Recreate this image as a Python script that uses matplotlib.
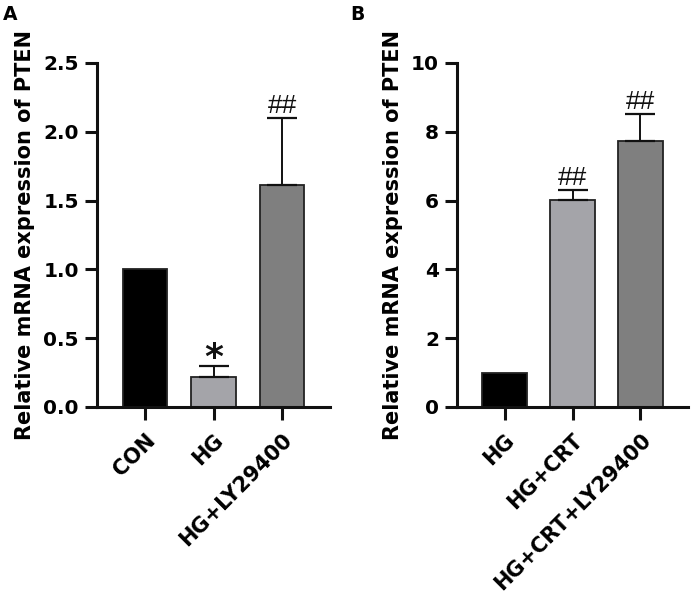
import matplotlib
matplotlib.use("Agg")
import matplotlib.pyplot as plt

plt.rcParams['font.family'] = ['DejaVu Sans']
plt.rcParams['font.weight'] = 'bold'

# Panel A data
cats_a = ["CON", "HG", "HG+LY29400"]
vals_a = [1.0, 0.22, 1.61]
err_a = [0.0, 0.08, 0.49]
marks_a = ["", "*", "##"]

# Panel B data
cats_b = ["HG", "HG+CRT", "HG+CRT+LY29400"]
vals_b = [1.0, 6.03, 7.72]
err_b = [0.0, 0.29, 0.81]
marks_b = ["", "##", "##"]

colors = ["#000000", "#a4a4a9", "#7f7f7f"]

fig = plt.figure(figsize=(6.92, 6.07), dpi=100)
W, H = 692, 607

def make_ax(left, right, top, bottom):
    return fig.add_axes([left / W, 1 - bottom / H, (right - left) / W, (bottom - top) / H])

ax_a = make_ax(97, 330, 63, 407)
ax_b = make_ax(457, 688, 63, 407)

def draw(ax, cats, vals, errs, marks, ylim, yticks, yticklabels):
    x = list(range(len(cats)))
    ax.bar(x, vals, width=0.65, color=colors, edgecolor="#222222", linewidth=1.3, zorder=2)
    for xi, v, e, m in zip(x, vals, errs, marks):
        if e > 0:
            ax.errorbar(xi, v, yerr=[[0], [e]], fmt="none", ecolor="#111111",
                        elinewidth=1.4, capsize=11, capthick=1.6, zorder=3)
        if m == "*":
            ax.annotate(m, xy=(xi, v + e), xytext=(0, -2), textcoords="offset points",
                        ha="center", va="baseline", fontsize=26, fontweight="bold",
                        color="#111111")
        elif m:
            ax.annotate(m, xy=(xi, v + e), xytext=(0, 3.6), textcoords="offset points",
                        ha="center", va="baseline", fontsize=19, fontweight="normal",
                        family=["Liberation Sans"], color="#111111")
    ax.set_xlim(-0.7, 2.7)
    ax.set_ylim(*ylim)
    ax.set_yticks(yticks)
    ax.set_yticklabels(yticklabels, fontsize=14.5, fontweight="bold")
    ax.set_xticks(x)
    ax.set_xticklabels(cats, fontsize=15, fontweight="bold", rotation=45,
                       ha="right", va="top", rotation_mode="anchor")
    for s in ["top", "right"]:
        ax.spines[s].set_visible(False)
    for s in ["left", "bottom"]:
        ax.spines[s].set_linewidth(2.2)
        ax.spines[s].set_color("#111111")
    ax.tick_params(axis="y", width=2.2, length=9, color="#111111", pad=4)
    ax.tick_params(axis="x", width=2.2, length=9, color="#111111", pad=7.5)
    ax.set_ylabel("Relative mRNA expression of PTEN", fontsize=15, fontweight="bold", labelpad=6)

draw(ax_a, cats_a, vals_a, err_a, marks_a, (0, 2.5), [0, 0.5, 1.0, 1.5, 2.0, 2.5],
     ["0.0", "0.5", "1.0", "1.5", "2.0", "2.5"])
draw(ax_b, cats_b, vals_b, err_b, marks_b, (0, 10), [0, 2, 4, 6, 8, 10],
     ["0", "2", "4", "6", "8", "10"])

fig.text(3 / W, 1 - 5 / H, "A", fontsize=13.5, fontweight="bold", va="top", ha="left")
fig.text(350 / W, 1 - 5 / H, "B", fontsize=13.5, fontweight="bold", va="top", ha="left")

fig.savefig("out.png", dpi=100)
